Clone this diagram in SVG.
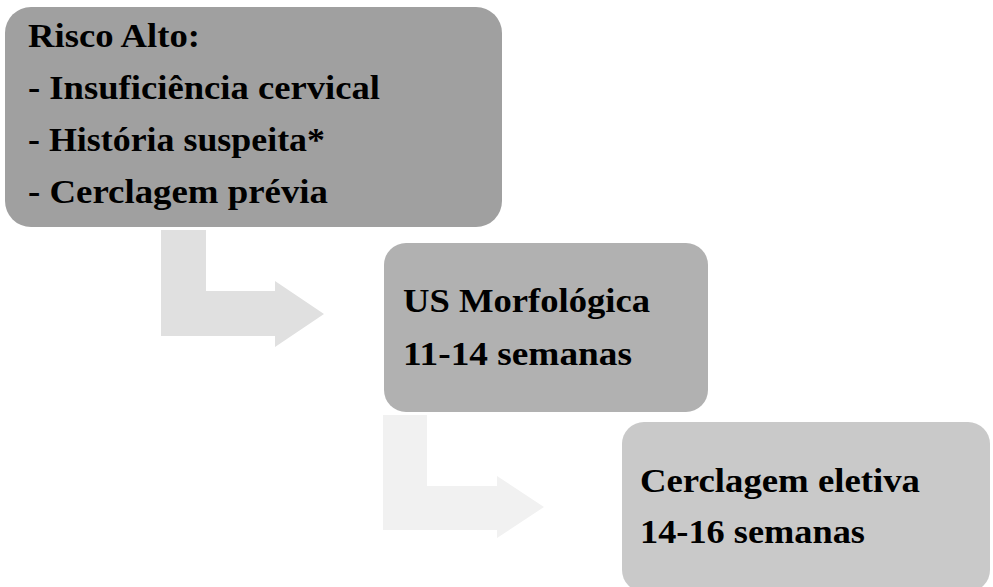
<svg xmlns="http://www.w3.org/2000/svg" width="993" height="587" viewBox="0 0 993 587">
<style>
.t{font-family:"Liberation Serif","Times New Roman",serif;font-weight:bold;font-size:33px;fill:#000}
</style>
<rect width="993" height="587" fill="#fff"/>
<g id="connectors">
<path d="M161 230 H206 V291 H275 V281 L324 314 L275 347 V336 H161 Z" fill="#e0e0e0"/>
<path d="M383 415 H427 V486 H497 V476 L544 507 L497 538 V530 H383 Z" fill="#f1f1f1"/>
</g>
<g id="node1">
<rect x="5" y="7" width="497" height="220" rx="26" fill="#a0a0a0"/>
<text class="t" x="28" y="47" textLength="172" lengthAdjust="spacingAndGlyphs">Risco Alto:</text>
<text class="t" x="28" y="99" textLength="352" lengthAdjust="spacingAndGlyphs">- Insuficiência cervical</text>
<text class="t" x="28" y="151" textLength="297" lengthAdjust="spacingAndGlyphs">- História suspeita*</text>
<text class="t" x="28" y="203" textLength="300" lengthAdjust="spacingAndGlyphs">- Cerclagem prévia</text>
</g>
<g id="node2">
<rect x="384" y="243" width="324" height="169" rx="22" fill="#b1b1b1"/>
<text class="t" x="403" y="312" textLength="247" lengthAdjust="spacingAndGlyphs">US Morfológica</text>
<text class="t" x="403" y="365" textLength="229" lengthAdjust="spacingAndGlyphs">11-14 semanas</text>
</g>
<g id="node3">
<rect x="622" y="422" width="368" height="170" rx="22" fill="#c9c9c9"/>
<text class="t" x="640" y="492" textLength="280" lengthAdjust="spacingAndGlyphs">Cerclagem eletiva</text>
<text class="t" x="640" y="543" textLength="225" lengthAdjust="spacingAndGlyphs">14-16 semanas</text>
</g>
</svg>
